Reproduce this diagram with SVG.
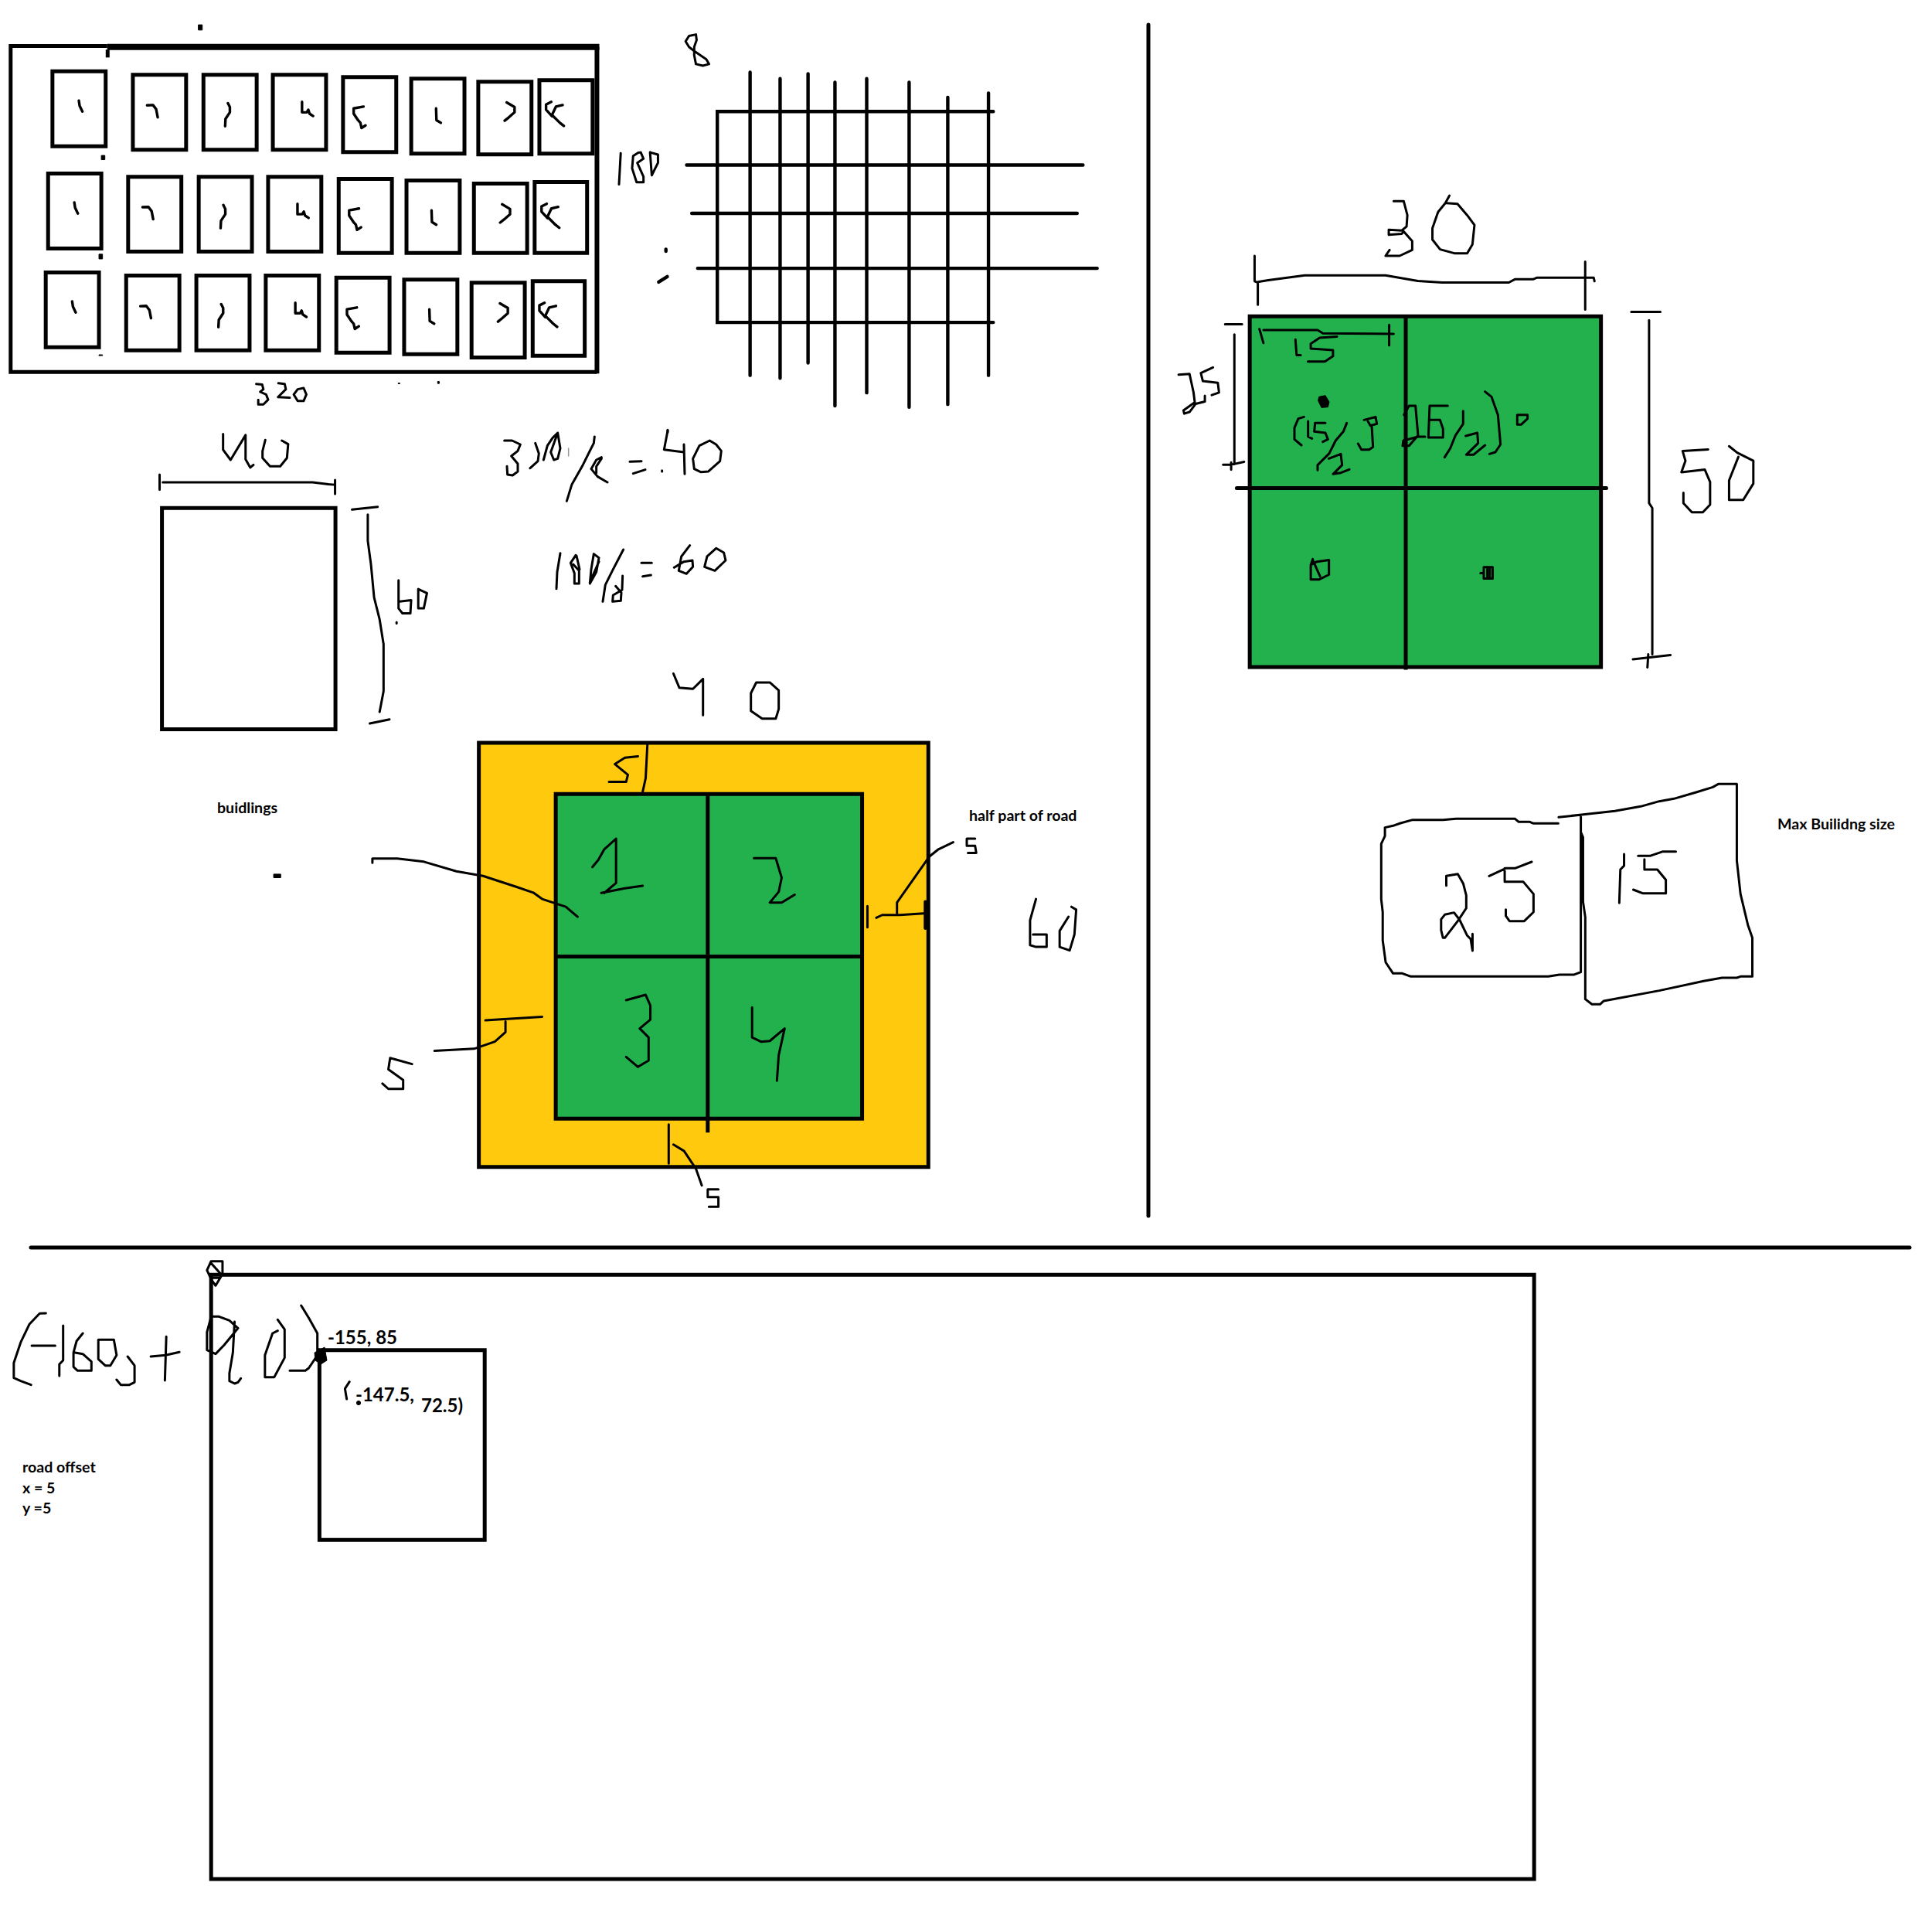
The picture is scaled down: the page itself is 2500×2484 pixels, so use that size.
<svg xmlns="http://www.w3.org/2000/svg" xmlns:xlink="http://www.w3.org/1999/xlink" width="2500" height="2484" viewBox="0 0 2500 2484">
<style>
.s{fill:none;stroke:#000;stroke-width:3;stroke-linejoin:round;stroke-linecap:round;vector-effect:non-scaling-stroke}
.m{fill:none;stroke:#000;stroke-width:5;stroke-linejoin:miter;vector-effect:non-scaling-stroke}
.l{fill:none;stroke:#000;stroke-width:4.4;stroke-linecap:round;vector-effect:non-scaling-stroke}
.k{fill:#000;stroke:#000;stroke-width:1;vector-effect:non-scaling-stroke}
.g{fill:#22b14c;stroke:#000;stroke-width:5;vector-effect:non-scaling-stroke}
.y{fill:#ffc90e;stroke:#000;stroke-width:5;vector-effect:non-scaling-stroke}
text{font-family:Lato,"Liberation Sans",sans-serif;font-weight:700;fill:#000}
.a{font-size:19.6px}
.b{font-size:24px}
</style>
<defs>
<g id="digits">
<path class="s" style="stroke-width:3.4" d="M200 385L202 405L209 427M373 403L388 402L396 418L400 449M578 395L583 410L583 430L572 455L571 483M766 390L766 430L778 430L782 420L785 435L794 444M922 408L897 415L897 435L908 460L914 470L917 490L927 480M1106 415L1107 460L1118 470M1285 392L1305 410L1305 430L1290 450L1280 462M1427 402L1410 408L1400 440L1420 470L1430 482M1398 390L1385 400L1385 420L1400 445"/>
</g>
</defs>
<rect width="2500" height="2484" fill="#fff"/>
<g id="city-grid" transform="scale(.5102,.338)">
<path class="m" d="M272 176H27V1424H1514"/>
<path class="m" style="stroke-width:8" d="M272 180H1520"/>
<path class="m" style="stroke-width:6" d="M1514 180V1430"/>
<path class="m" d="M273 190V220"/>
<g class="row">
<rect class="m" x="133" y="273" width="135" height="287"/><rect class="m" x="337" y="286" width="135" height="287"/><rect class="m" x="516" y="286" width="135" height="287"/><rect class="m" x="692" y="286" width="135" height="287"/><rect class="m" x="870" y="295" width="135" height="287"/><rect class="m" x="1043" y="301" width="135" height="287"/><rect class="m" x="1213" y="313" width="135" height="278"/><rect class="m" x="1368" y="307" width="135" height="281"/>
<rect class="m" x="122" y="664" width="135" height="287"/><rect class="m" x="325" y="677" width="135" height="286"/><rect class="m" x="504" y="677" width="135" height="286"/><rect class="m" x="680" y="677" width="135" height="286"/><rect class="m" x="859" y="685" width="135" height="283"/><rect class="m" x="1031" y="691" width="135" height="277"/><rect class="m" x="1202" y="703" width="135" height="265"/><rect class="m" x="1356" y="697" width="133" height="271"/>
<rect class="m" x="116" y="1043" width="135" height="286"/><rect class="m" x="320" y="1055" width="135" height="286"/><rect class="m" x="498" y="1055" width="135" height="286"/><rect class="m" x="674" y="1055" width="135" height="286"/><rect class="m" x="853" y="1063" width="135" height="287"/><rect class="m" x="1025" y="1070" width="135" height="286"/><rect class="m" x="1196" y="1082" width="135" height="286"/><rect class="m" x="1351" y="1076" width="132" height="286"/>
</g>
<use xlink:href="#digits"/>
<use xlink:href="#digits" x="-11.5" y="390"/>
<use xlink:href="#digits" x="-17" y="769"/>
<path class="k" d="M503 95h10v20h-10zM257 595h9v16h-9zM251 973h9v18h-9zM251 1358h9v3h-9zM1010 1466h4v3h-4zM1110 1460h4v8h-4z"/>
<path class="s" d="M650 1470L665 1472L668 1490L660 1500L675 1510L680 1530L668 1548L655 1548L655 1530M706 1467L722 1470L725 1490L705 1520L735 1522M755 1490L770 1485L777 1510L770 1535L755 1535L745 1510Z"/>
</g>
<g id="grid-sketch" transform="translate(780,0) scale(.4464,.3571)">
<path class="l" d="M1132 404H332V1168H1132M427 262V1360M514 285V1370M595 267V1315M673 298V1470M765 285V1423M888 298V1475M1000 353V1465M1118 337V1360M243 598H1392M258 773H1375M275 972H1433"/>
<path class="s" d="M270 125L250 130L240 150L250 170L265 185L300 215L308 232L290 238L270 232L265 200L265 170L272 145L270 125M52 555L47 668M103 553L88 565L85 610L98 660L118 660L118 640L100 590L118 575L110 552ZM137 552L160 560L160 590L142 635L137 552"/>
<path class="l" d="M183 903V910M162 1022L187 1002"/>
<path class="s" d="M188 1558V1566"/>
</g>
<g id="building-dims" transform="translate(180,530) scale(.5102,.3571)">
<rect class="m" x="58" y="356" width="440" height="802"/>
<path class="s" d="M52 235V290M60 263H440L480 270L495 272M497 255V305M213 88V145L232 182L270 92V180L282 210L290 200M320 110L313 150L313 175L332 205L358 205L375 175L378 125L362 112M540 362L605 352M580 380V475L588 560L596 680L610 760L620 850V1020L610 1095M585 1137L635 1122M658 618V720L668 738L688 738L690 690L660 695M708 650L730 665L722 720H708ZM653 770V774"/>
</g>
<g id="formulas" transform="translate(640,540) scale(.3333)">
<path class="s" d="M38 90L68 90L100 105L90 130L65 150L90 180L90 210L70 225L50 222L48 190M158 100L172 140L168 170L138 197M245 60L225 80L205 110L190 165M245 60L255 120L245 160L230 165L218 135L245 60M388 75L385 100L340 190L300 260L280 325M415 155L395 165L375 200L400 230L438 252M415 160L395 190L395 215M525 172L570 170M538 218L585 203M650 206V210M672 52L658 125L735 135M735 105L738 220M835 90L795 110L770 160L775 200L800 212L830 210L875 170L880 130L860 105ZM255 527L243 600L240 665M315 535L295 565L310 605V645H328L328 595L305 570M318 537L330 590M385 530L405 545L395 600L370 645L375 590L385 530M405 560L370 640M500 513L460 590L430 650L420 715M497 615L495 670L460 690L458 715L490 712L492 680L470 655M570 565H610M575 617L607 612M758 497L725 540L715 595L745 607L770 580L768 555L735 560L697 583M860 508L825 540L815 580L855 595L897 555L890 525Z"/>
<path class="s" style="stroke:#999;stroke-width:1.5" d="M287 120V150"/>
</g>
<g id="block-road" transform="translate(250,860) scale(.7653,.4592)">
<rect class="y" x="483" y="220" width="760" height="1195"/>
<rect class="g" x="613" y="364" width="518" height="915"/>
<path class="m" d="M870 364V1318M613 822H1131"/>
<path class="s" d="M812 25L822 65L845 68L862 40V142M952 50H975L990 72V125L985 152H962L943 130V80ZM752 258L730 262L713 280L735 310L732 330H703M768 225L765 320L760 358M715 490L695 520L685 550L675 570M715 490V615L695 643M690 643L730 630L760 623M948 545H985L995 600L990 640L975 670H995L1017 648M732 945L765 930L773 960V1000L755 1025L770 1050V1115L752 1133L732 1105M945 965V1050L960 1062L975 1060L1000 1025L990 1100L987 1172M303 558V546H345L390 555L445 582L490 595L545 625L575 642L590 660L630 682L650 710M494 1002L590 992M528 1005V1035L510 1062L475 1082L408 1088M370 1125L333 1108L330 1140L355 1170V1195H330L320 1180M1140 680V740M1155 713L1165 705H1195L1240 700M1190 700V670L1245 540L1260 520L1285 500M1322 490H1308V510H1322L1324 530H1310M804 1295V1405M812 1352L830 1370L850 1420L860 1467M888 1478H870V1500H888V1527H872M1425 660L1415 720V790L1425 795H1443V760H1420M1485 682L1493 690L1490 760L1482 805L1465 795V750L1480 710"/>
<path class="l" d="M1238 668V742"/>
<path class="k" d="M136 590h12v10h-12z"/>
</g>
<g id="road-and-zone" transform="translate(1500,230) scale(.523,.4209)">
<rect class="g" x="224" y="426" width="869" height="1078"/>
<path class="m" d="M610 426V1512"/>
<path class="l" style="stroke-width:5" d="M192 954H1106"/>
<path class="s" d="M580 72L605 72L614 115L612 150L600 162L568 160L568 175L600 172L605 165L626 195L626 222L595 240L560 240L570 222M718 55L708 78L690 105L676 155L676 190L695 220L730 232L762 232L775 205L780 145L762 115L738 80L710 78M236 240V318L244 322L244 390M244 320L270 315L360 300L560 300L640 317L700 322L865 322L880 312L925 312L935 307L1075 307L1077 318M1054 258V405M163 450H205M186 482V880M158 882L185 880L210 873M178 875V897M48 605L75 603L85 660L88 690L60 715L62 725L75 720L90 695L113 688L113 670M133 583L103 600L108 625L145 630L148 660L130 668M248 465L258 508M258 468L392 468L405 478L580 480M569 452V515M337 497L340 545L350 545M440 488L397 492L375 510L375 525L430 530L430 548L410 565L368 565M375 1190L380 1172M375 1190V1235H395L420 1220V1175L390 1180L375 1190M380 1175L398 1225M795 1215L803 1215M803 1197H825V1232H803ZM812 1200V1230M818 1200V1230M1168 412H1240M1212 438V1000L1220 1015V1465M1172 1480L1210 1475L1265 1467M1210 1465L1208 1505M1358 835L1295 840L1302 870L1292 905L1350 897L1363 935L1363 1005L1345 1028L1318 1028L1297 1000V968M1410 825L1430 845L1470 870V940L1445 990H1410V930L1433 858"/>
</g>
<g id="center-formula" transform="translate(1660,480) scale(.3333)">
<path class="k" d="M140 100L165 95L180 120L175 140L150 142L137 115Z"/>
<path class="s" d="M82 178L60 185L45 220V265L72 288M98 195V255L113 262M165 202H125L122 235L165 240L175 265L155 275M248 202L235 235L205 270L180 320L135 365V385M178 340L225 322L230 365L195 400L225 395L258 382M315 190L360 178L365 205L340 212L330 195M345 210L350 295L335 305H305L292 282M470 170L490 135H515L525 250L490 290L465 290L468 270L525 255H552M640 135H570L565 258H622V225L610 190H570M700 155V205L670 250L650 300L628 335M710 252L755 240L758 280L712 325H740L785 288M785 80L810 100L835 170L845 285L825 315L802 322M910 170H950V185L925 208H910Z"/>
</g>
<g id="max-size" transform="translate(1750,980) scale(.4783,.3333)">
<path class="s" d="M557 256H490L480 250H450L440 238H280L245 242H163L130 255L110 265L88 272V305L78 335V550L82 600V710L90 795L110 838H135L158 850H530L560 843H600L618 833V230M558 232L620 222L710 208L780 190L830 170L870 160L930 135L975 115L990 103H1040V400L1050 530L1070 650L1082 700V850H1050L1040 855H1000L950 868L830 905L680 945L670 958H648L630 938V620L624 560V310L618 290M254 497V460L285 452L300 490L308 535V585L285 635L250 700H245L240 670V628L250 610L275 602L290 630L310 690L320 705L325 750V685M370 460L415 430H440L485 405M412 430V482H462L490 530V600L465 635H425L415 615V590M735 375V420L725 435L722 565M773 382H805L840 365H875M790 395V435H825L848 475V527H785L760 513"/>
</g>
<g id="dividers">
<path class="l" style="stroke-width:5" d="M1486 32V1573M40 1614H2471"/>
</g>
<g id="world" transform="translate(0,1610) scale(.4464,.3333)">
<path class="m" d="M612 118H4447V2463H612Z"/>
<path class="m" d="M926 410H1405V1147H926Z"/>
<path class="s" d="M600 100L612 65H645V115L625 160L612 135ZM610 70L640 115M612 130H635M133 267L115 268L85 310L60 380L40 460V518L60 530L90 545M92 393H160M183 315V450L172 465V510M240 345L222 375L213 420V475L225 490H265V455L240 425L218 420M285 370H330L338 430L320 470H305L285 445ZM370 435L390 470V535L375 545H350L338 525M437 435L480 430L520 418M482 358L478 528M612 280H635L665 295L690 325L650 390L625 425L600 410V340ZM680 300L675 420L665 500V530L680 540L690 535L698 520M805 292L825 330V440L795 515H768V430L790 345L805 335M873 237L895 285L920 345V430L895 480L885 490H840M1013 533L1000 560L1005 600"/>
</g>
<g id="marks">
<path class="k" d="M407 1750L420 1743L423 1760L415 1765L408 1760Z"/>
<circle class="k" cx="464" cy="1815" r="2.6"/>
</g>
<g id="labels">
<text class="a" x="281" y="1052">buidlings</text>
<text class="a" x="1254" y="1062">half part of road</text>
<text class="a" x="2300" y="1073">Max Builidng size</text>
<text class="a" x="29" y="1905">road offset</text>
<text class="a" x="29" y="1932">x = 5</text>
<text class="a" x="29" y="1958">y =5</text>
<text class="b" x="424" y="1739">-155, 85</text>
<text class="b" x="460" y="1813">-147.5,</text>
<text class="b" x="545" y="1827">72.5)</text>
</g>
</svg>
